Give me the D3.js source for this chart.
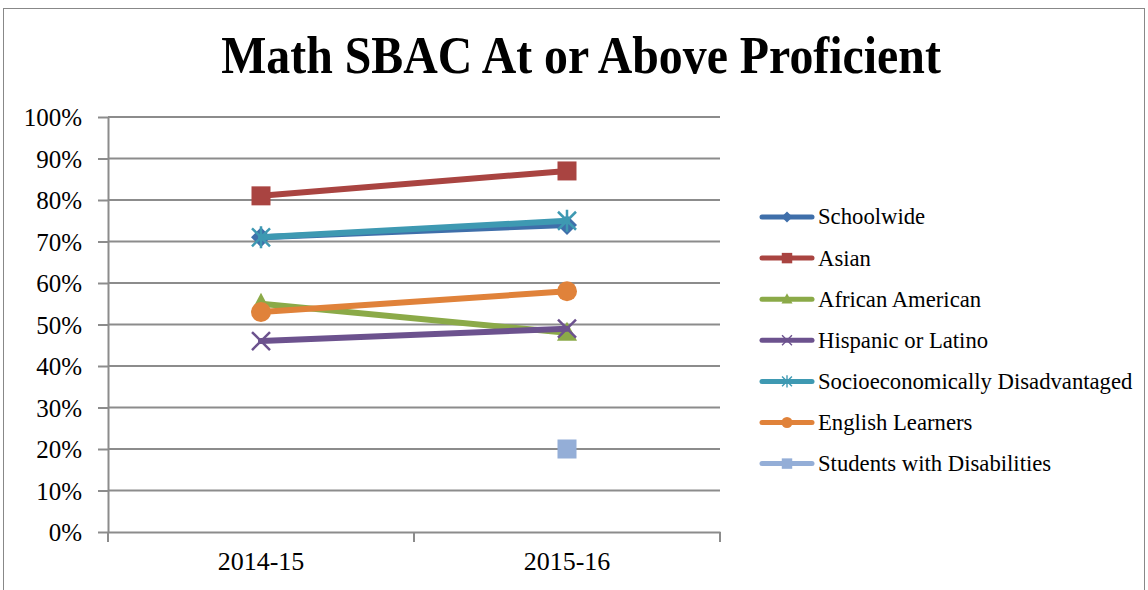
<!DOCTYPE html>
<html><head><meta charset="utf-8">
<script src="https://cdn.jsdelivr.net/npm/d3@7"></script>
<style>
html,body{margin:0;padding:0;background:#fff;}
svg{display:block;font-family:"Liberation Serif","Times New Roman",serif;}
</style></head>
<body><svg id="chart" width="1148" height="590"></svg>
<script>
const categories = ["2014-15", "2015-16"];
const seriesNames = ["Schoolwide","Asian","African American","Hispanic or Latino","Socioeconomically Disadvantaged","English Learners","Students with Disabilities"];
const schoolwide = [71, 74];
const asian = [81, 87];
const africanAmerican = [55, 48];
const hispanic = [46, 49];
const socioDisadv = [71, 75];
const englishLearners = [53, 58];
const disabilities = [null, 20];
const yTicks = [0,10,20,30,40,50,60,70,80,90,100];

const seriesValues = [schoolwide, asian, africanAmerican, hispanic, socioDisadv, englishLearners, disabilities];
const colors = ["#3F6FAA","#A94441","#8BAA48","#6C528E","#3E99B2","#E0823A","#94AED7"];
const markers = ["diamond","square","triangle","x","star","circle","square"];
const FONT = "'Liberation Serif','Times New Roman',serif";

const svg = d3.select("#chart");
svg.append("rect").attr("x",3.5).attr("y",8.5).attr("width",1141).attr("height",600)
  .attr("fill","none").attr("stroke","#888").attr("stroke-width",1);

svg.append("text").attr("transform","translate(581,73) scale(0.92,1)").attr("text-anchor","middle")
  .attr("font-family",FONT).attr("font-size",52).attr("font-weight","bold").attr("fill","#000")
  .text("Math SBAC At or Above Proficient");

const x = d3.scaleBand().domain(categories).range([108,720]);
const y = d3.scaleLinear().domain([0,100]).range([532,117]);

svg.append("g").selectAll("line").data(yTicks.filter(d=>d>0)).join("line")
  .attr("x1",108).attr("x2",720).attr("y1",d=>y(d)).attr("y2",d=>y(d))
  .attr("stroke","#8c8c8c").attr("stroke-width",2);

const yAxis = d3.axisLeft(y).tickValues(yTicks).tickFormat(d=>d+"%").tickSize(10).tickSizeOuter(0);
const gy = svg.append("g").attr("transform","translate(108,0)").call(yAxis);
gy.select(".domain").attr("stroke","#8c8c8c").attr("stroke-width",2);
gy.selectAll(".tick line").attr("stroke","#8c8c8c").attr("stroke-width",2);
gy.selectAll(".tick text").attr("font-size",25).attr("fill","#000").attr("x",-26).attr("dy","0.34em")
  .attr("font-family",FONT);

const xAxis = d3.axisBottom(x).tickSize(0);
const gx = svg.append("g").attr("transform","translate(0,532)").call(xAxis);
gx.select(".domain").attr("stroke","#8c8c8c").attr("stroke-width",2);
gx.selectAll(".tick text").attr("font-size",26).attr("fill","#000").attr("y",20).attr("dy","0.71em")
  .attr("font-family",FONT);
const bounds = [x.range()[0], ...categories.map(c=>x(c)+x.bandwidth())];
gx.append("g").selectAll("line").data(bounds).join("line")
  .attr("x1",d=>d).attr("x2",d=>d).attr("y1",0).attr("y2",10)
  .attr("stroke","#8c8c8c").attr("stroke-width",2);

function drawMarker(g, type, cx, cy, color, s) {
  const k = s/20;
  if (type==="square") {
    g.append("rect").attr("x",cx-9.5*k).attr("y",cy-9.5*k).attr("width",19*k).attr("height",19*k).attr("fill",color);
  } else if (type==="circle") {
    g.append("circle").attr("cx",cx).attr("cy",cy).attr("r",10*k).attr("fill",color);
  } else if (type==="diamond") {
    g.append("path").attr("d",`M${cx},${cy-10*k}L${cx+10*k},${cy}L${cx},${cy+10*k}L${cx-10*k},${cy}Z`).attr("fill",color);
  } else if (type==="triangle") {
    g.append("path").attr("d",`M${cx},${cy-11*k}L${cx+10*k},${cy+8*k}L${cx-10*k},${cy+8*k}Z`).attr("fill",color);
  } else if (type==="x") {
    g.append("path").attr("d",`M${cx-9*k},${cy-9*k}L${cx+9*k},${cy+9*k}M${cx+9*k},${cy-9*k}L${cx-9*k},${cy+9*k}`)
      .attr("stroke",color).attr("stroke-width",2.5*k).attr("fill","none");
  } else if (type==="star") {
    g.append("path").attr("d",`M${cx-9*k},${cy-9*k}L${cx+9*k},${cy+9*k}M${cx+9*k},${cy-9*k}L${cx-9*k},${cy+9*k}M${cx},${cy-11*k}L${cx},${cy+11*k}`)
      .attr("stroke",color).attr("stroke-width",2.5*k).attr("fill","none");
  }
}

const line = d3.line().defined(d=>d.v!=null).x(d=>x(d.c)+x.bandwidth()/2).y(d=>y(d.v));
const plot = svg.append("g");
seriesValues.forEach((vals,i)=>{
  const pts = categories.map((c,j)=>({c, v: vals[j]}));
  const g = plot.append("g");
  g.append("path").datum(pts).attr("d",line).attr("fill","none")
    .attr("stroke",colors[i]).attr("stroke-width",6).attr("stroke-linecap","round");
  pts.filter(p=>p.v!=null).forEach(p=>drawMarker(g, markers[i], x(p.c)+x.bandwidth()/2, y(p.v), colors[i], 20));
});

const leg = svg.append("g");
seriesNames.forEach((n,i)=>{
  const ly = 217 + i*41.1;
  const g = leg.append("g");
  g.append("line").attr("x1",762).attr("x2",812).attr("y1",ly).attr("y2",ly)
    .attr("stroke",colors[i]).attr("stroke-width",5).attr("stroke-linecap","round");
  drawMarker(g, markers[i], 787, ly, colors[i], 11);
  g.append("text").attr("x",818).attr("y",ly).attr("dy","0.33em").attr("font-size",22.7)
    .attr("font-family",FONT).attr("fill","#000").text(n);
});
</script></body></html>
